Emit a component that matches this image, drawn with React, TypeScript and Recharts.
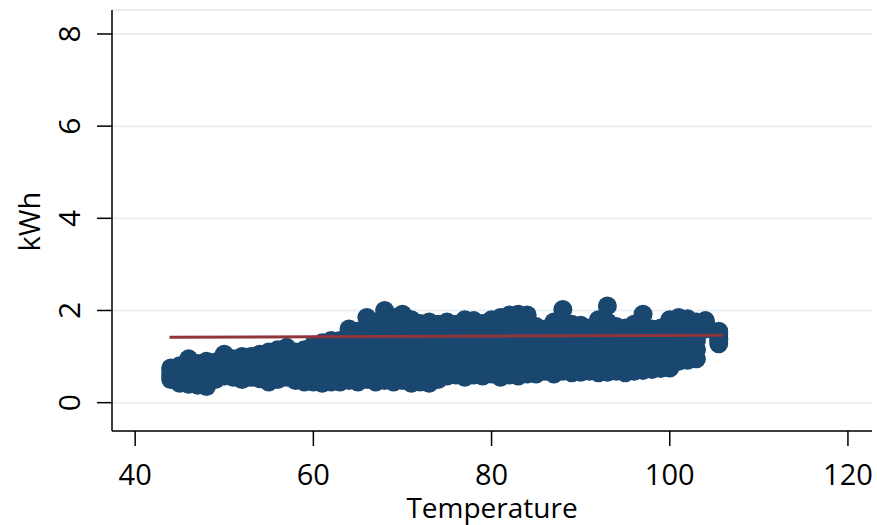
import React from 'react'
import { ScatterChart, Scatter, XAxis, YAxis, CartesianGrid } from 'recharts'

// temperature columns, with the kWh spread at each
const temps = [
  44, 45, 46, 47, 48, 49, 50, 51, 52, 53, 54, 55, 56, 57, 58, 59, 60, 61, 62, 63,
  64, 65, 66, 67, 68, 69, 70, 71, 72, 73, 74, 75, 76, 77, 78, 79, 80, 81, 82, 83,
  84, 85, 86, 87, 88, 89, 90, 91, 92, 93, 94, 95, 96, 97, 98, 99, 100, 101, 102, 103,
  104, 105.5,
]
const kwhTop = [
  0.75, 0.8, 0.95, 0.85, 0.9, 0.88, 1.05, 0.95, 1.0, 1.0, 1.05, 1.1, 1.15, 1.2, 1.1, 1.15, 1.25, 1.3, 1.35, 1.35,
  1.6, 1.55, 1.85, 1.75, 2.0, 1.85, 1.92, 1.8, 1.72, 1.75, 1.7, 1.75, 1.7, 1.8, 1.78, 1.72, 1.8, 1.85, 1.9, 1.92,
  1.9, 1.65, 1.6, 1.75, 2.02, 1.7, 1.68, 1.62, 1.8, 2.1, 1.65, 1.62, 1.7, 1.92, 1.6, 1.62, 1.8, 1.85, 1.82, 1.75,
  1.78, 1.55,
]
const kwhUpper = [
  0.7, 0.7, 0.8, 0.72, 0.75, 0.78, 0.92, 0.85, 0.88, 0.88, 0.92, 0.95, 1.0, 1.05, 0.95, 0.98, 1.05, 1.08, 1.12, 1.12,
  1.32, 1.28, 1.5, 1.42, 1.62, 1.5, 1.55, 1.45, 1.4, 1.42, 1.4, 1.45, 1.42, 1.48, 1.48, 1.45, 1.5, 1.52, 1.58, 1.58,
  1.58, 1.4, 1.38, 1.48, 1.68, 1.45, 1.42, 1.38, 1.52, 1.75, 1.4, 1.38, 1.45, 1.6, 1.38, 1.4, 1.55, 1.62, 1.6, 1.55,
  1.72, 1.48,
]
const kwhMid = [
  0.62, 0.6, 0.68, 0.62, 0.62, 0.7, 0.8, 0.75, 0.75, 0.78, 0.78, 0.78, 0.82, 0.88, 0.8, 0.8, 0.85, 0.85, 0.9, 0.9,
  1.05, 1.0, 1.18, 1.1, 1.25, 1.15, 1.2, 1.1, 1.08, 1.08, 1.1, 1.15, 1.15, 1.18, 1.2, 1.15, 1.2, 1.2, 1.25, 1.25,
  1.25, 1.15, 1.15, 1.18, 1.35, 1.18, 1.18, 1.15, 1.22, 1.38, 1.15, 1.12, 1.2, 1.3, 1.15, 1.18, 1.28, 1.38, 1.38, 1.35,
  1.68, 1.4,
]
const kwhLower = [
  0.55, 0.5, 0.55, 0.5, 0.48, 0.6, 0.7, 0.65, 0.62, 0.65, 0.65, 0.62, 0.65, 0.72, 0.62, 0.62, 0.65, 0.62, 0.68, 0.68,
  0.75, 0.72, 0.85, 0.78, 0.85, 0.8, 0.85, 0.75, 0.78, 0.75, 0.8, 0.85, 0.88, 0.85, 0.9, 0.85, 0.92, 0.88, 0.92, 0.92,
  0.95, 0.88, 0.9, 0.9, 1.0, 0.92, 0.92, 0.92, 0.95, 1.02, 0.92, 0.9, 0.95, 1.0, 0.92, 0.95, 1.02, 1.12, 1.15, 1.15,
  1.65, 1.35,
]
const kwhBottom = [
  0.5, 0.42, 0.4, 0.38, 0.35, 0.5, 0.58, 0.55, 0.5, 0.55, 0.52, 0.45, 0.5, 0.55, 0.48, 0.45, 0.45, 0.42, 0.45, 0.45,
  0.48, 0.45, 0.5, 0.45, 0.48, 0.45, 0.48, 0.42, 0.45, 0.42, 0.5, 0.58, 0.6, 0.55, 0.6, 0.58, 0.62, 0.55, 0.6, 0.58,
  0.62, 0.62, 0.68, 0.62, 0.68, 0.65, 0.66, 0.68, 0.65, 0.66, 0.68, 0.65, 0.68, 0.7, 0.72, 0.74, 0.75, 0.9, 0.92, 0.95,
  1.6, 1.28,
]

// fitted line ends
const fitTemps = [43.85, 106]
const fitKwh = [1.42, 1.465]

const xTicks = [40, 60, 80, 100, 120]
const yTicks = [0, 2, 4, 6, 8]

const NAVY = '#1a476f'
const MAROON = '#90353b'
const FONT = '"Open Sans", sans-serif'

const points = temps.flatMap((t, i) =>
  [kwhTop[i], kwhUpper[i], kwhMid[i], kwhLower[i], kwhBottom[i]].map(k => ({ temp: t, kwh: k }))
)
const fit = fitTemps.map((t, i) => ({ temp: t, kwh: fitKwh[i] }))

const Dot = (p: any) => <circle cx={p.cx} cy={p.cy} r={9.5} fill={NAVY} />

const XTick = ({ x, y, payload }: any) => (
  <text x={x} y={y + 37} textAnchor="middle" fontFamily={FONT} fontSize={29} fill="#000">
    {payload.value}
  </text>
)

const YTick = ({ x, y, payload }: any) => {
  const bx = x - 15
  return (
    <text
      x={bx}
      y={y}
      transform={`rotate(-90 ${bx} ${y})`}
      textAnchor="middle"
      fontFamily={FONT}
      fontSize={30}
      fill="#000"
    >
      {payload.value}
    </text>
  )
}

const YLabel = ({ viewBox }: any) => {
  const lx = viewBox.x + 40
  const ly = viewBox.y + viewBox.height / 2 + 1
  return (
    <text
      x={lx}
      y={ly}
      transform={`rotate(-90 ${lx} ${ly})`}
      textAnchor="middle"
      fontFamily={FONT}
      fontSize={29}
      fill="#000"
    >
      kWh
    </text>
  )
}

const XLabel = ({ viewBox }: any) => (
  <text
    x={viewBox.x + viewBox.width / 2}
    y={viewBox.y + viewBox.height - 7}
    textAnchor="middle"
    fontFamily={FONT}
    fontSize={28}
    fill="#000"
  >
    Temperature
  </text>
)

export default function App() {
  return (
    <div style={{ position: 'absolute', left: 0, top: 0, background: '#fff' }}>
      <ScatterChart width={877} height={525} margin={{ top: 10, right: 5, bottom: 0, left: 0 }}>
        <CartesianGrid horizontal vertical={false} stroke="#e8eff2" strokeWidth={2} />
        <XAxis
          type="number"
          dataKey="temp"
          domain={[37.4, 122.7]}
          ticks={xTicks}
          allowDataOverflow
          height={94}
          tickSize={15}
          axisLine={{ stroke: '#000', strokeWidth: 1.5 }}
          tickLine={{ stroke: '#000', strokeWidth: 1.5 }}
          tick={<XTick />}
          label={<XLabel />}
        />
        <YAxis
          type="number"
          dataKey="kwh"
          domain={[-0.615, 8.52]}
          ticks={yTicks}
          allowDataOverflow
          width={112}
          tickSize={15}
          axisLine={{ stroke: '#000', strokeWidth: 1.5 }}
          tickLine={{ stroke: '#000', strokeWidth: 1.5 }}
          tick={<YTick />}
          label={<YLabel />}
        />
        <Scatter data={points} shape={Dot} isAnimationActive={false} />
        <Scatter
          data={fit}
          line={{ stroke: MAROON, strokeWidth: 3 }}
          shape={() => <g />}
          isAnimationActive={false}
        />
      </ScatterChart>
    </div>
  )
}
